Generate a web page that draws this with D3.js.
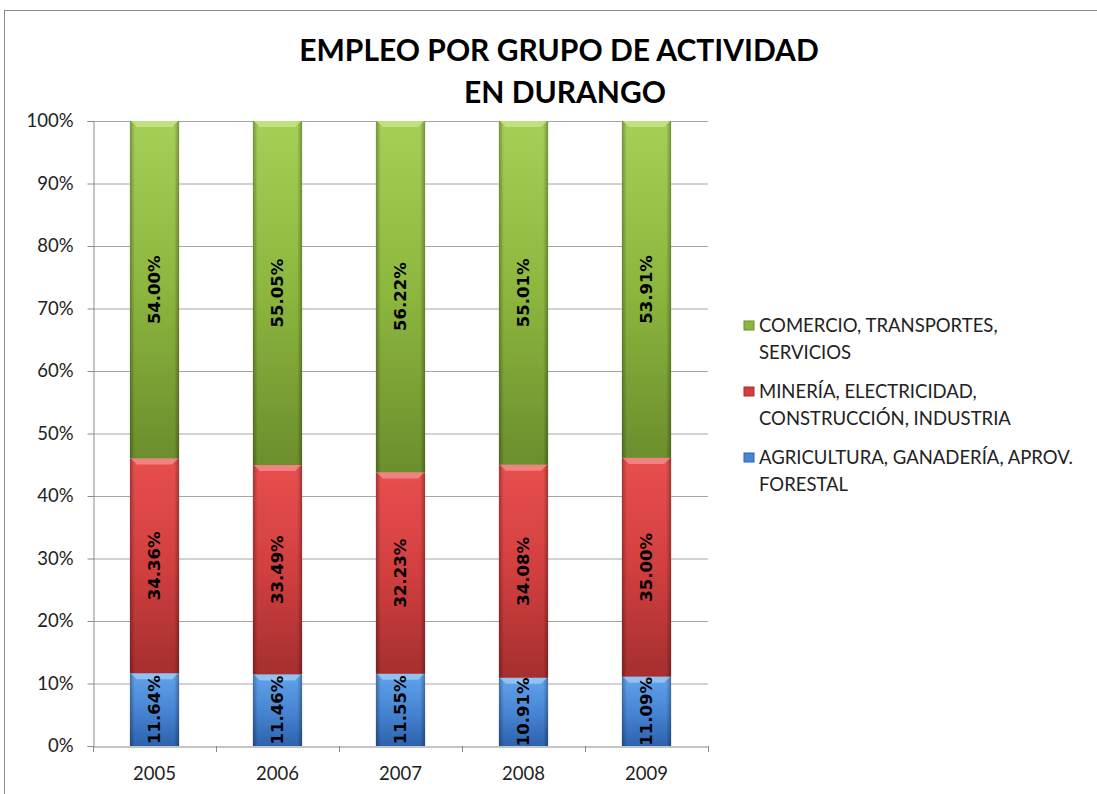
<!DOCTYPE html>
<html>
<head>
<meta charset="utf-8">
<script src="https://cdn.jsdelivr.net/npm/d3@7"></script>
<style>
  body { margin: 0; background: #fff; }
  svg { display: block; }
</style>
</head>
<body>
<svg id="chart" width="1097" height="794"></svg>
<script>
// data
const years = ['2005', '2006', '2007', '2008', '2009'];
const agricultura = [11.64, 11.46, 11.55, 10.91, 11.09];
const mineria = [34.36, 33.49, 32.23, 34.08, 35.00];
const comercio = [54.00, 55.05, 56.22, 55.01, 53.91];
const seriesNames = [
    ['AGRICULTURA, GANADERÍA, APROV.', 'FORESTAL'],
    ['MINERÍA, ELECTRICIDAD,', 'CONSTRUCCIÓN, INDUSTRIA'],
    ['COMERCIO, TRANSPORTES,', 'SERVICIOS']
];
const yTicks = [0, 10, 20, 30, 40, 50, 60, 70, 80, 90, 100];

const colors = [
    {top: '#62a3ea', mid: '#4886d4', bottom: '#2d62ae', bevel: '#9ccaf5'},
    {top: '#e84f4f', mid: '#d23f3f', bottom: '#a52f2f', bevel: '#f59090'},
    {top: '#a6cf58', mid: '#8cb63e', bottom: '#6c8e2d', bevel: '#c6e68a'}
];
const uiFont = 'Lato, "Open Sans", sans-serif';

const svg = d3.select('#chart');
const defs = svg.append('defs');

colors.forEach((c, i) => {
    let g = defs.append('linearGradient').attr('id', 'grad' + i)
        .attr('x1', 0).attr('x2', 0).attr('y1', 0).attr('y2', 1);
    g.append('stop').attr('offset', '0%').attr('stop-color', c.top);
    g.append('stop').attr('offset', '50%').attr('stop-color', c.mid);
    g.append('stop').attr('offset', '100%').attr('stop-color', c.bottom);
});
// darker side edges
let edge = defs.append('linearGradient').attr('id', 'edge')
    .attr('x1', 0).attr('x2', 1).attr('y1', 0).attr('y2', 0);
edge.append('stop').attr('offset', '0%').attr('stop-color', '#000').attr('stop-opacity', 0.3);
edge.append('stop').attr('offset', '10%').attr('stop-color', '#000').attr('stop-opacity', 0);
edge.append('stop').attr('offset', '90%').attr('stop-color', '#000').attr('stop-opacity', 0);
edge.append('stop').attr('offset', '100%').attr('stop-color', '#000').attr('stop-opacity', 0.3);

// chart frame
svg.append('rect')
    .attr('x', 4.5).attr('y', 10.5)
    .attr('width', 1200).attr('height', 900)
    .attr('fill', 'none').attr('stroke', '#8a8a8a').attr('stroke-width', 1);

const margin = {left: 93, right: 708, top: 121, bottom: 746};

const x = d3.scaleBand().domain(years)
    .range([margin.left, margin.right])
    .paddingInner(0.6).paddingOuter(0.3);

const y = d3.scaleLinear().domain([0, 100]).range([margin.bottom, margin.top]);

// grid lines
svg.append('g').selectAll('line')
    .data(yTicks.filter(d => d > 0))
    .join('line')
    .attr('x1', margin.left).attr('x2', margin.right)
    .attr('y1', d => y(d) + 0.5).attr('y2', d => y(d) + 0.5)
    .attr('stroke', '#a6a6a6');

// y axis
const yAxis = svg.append('g')
    .attr('transform', `translate(${margin.left + 0.5},0)`)
    .call(d3.axisLeft(y).tickValues(yTicks).tickFormat(d => d + '%').tickSize(6).tickPadding(14));
yAxis.select('.domain').attr('stroke', '#8a8a8a');
yAxis.selectAll('.tick line').attr('stroke', '#8a8a8a');
yAxis.selectAll('text').attr('font-size', 18.5).attr('fill', '#222')
    .attr('font-family', uiFont);

// x axis
const xAxis = svg.append('g')
    .attr('transform', `translate(0,${margin.bottom + 0.5})`)
    .call(d3.axisBottom(x).tickSize(0).tickPadding(20));
xAxis.select('.domain').attr('stroke', '#8a8a8a');
xAxis.selectAll('text').attr('font-size', 18.5).attr('fill', '#222')
    .attr('font-family', uiFont);

// category boundary ticks
svg.append('g').selectAll('line')
    .data(d3.range(years.length + 1))
    .join('line')
    .attr('x1', i => margin.left + i * (margin.right - margin.left) / years.length + 0.5)
    .attr('x2', i => margin.left + i * (margin.right - margin.left) / years.length + 0.5)
    .attr('y1', margin.bottom).attr('y2', margin.bottom + 6)
    .attr('stroke', '#8a8a8a');

// stacked data
const rows = years.map((yr, i) => ({year: yr, a: agricultura[i], m: mineria[i], c: comercio[i]}));
const stack = d3.stack().keys(['a', 'm', 'c'])(rows);

const layers = svg.append('g').selectAll('g')
    .data(stack)
    .join('g');

layers.each(function (layer, li) {
    const g = d3.select(this);
    const seg = g.selectAll('g').data(layer).join('g');

    seg.append('rect')
        .attr('x', d => x(d.data.year))
        .attr('y', d => y(d[1]))
        .attr('width', x.bandwidth())
        .attr('height', d => y(d[0]) - y(d[1]))
        .attr('fill', `url(#grad${li})`);

    seg.append('rect')
        .attr('x', d => x(d.data.year))
        .attr('y', d => y(d[1]))
        .attr('width', x.bandwidth())
        .attr('height', d => y(d[0]) - y(d[1]))
        .attr('fill', 'url(#edge)');

    // top bevel
    seg.append('path')
        .attr('d', d => {
            const x0 = x(d.data.year), x1 = x0 + x.bandwidth(), y0 = y(d[1]);
            return `M${x0 + 1},${y0}L${x1 - 1},${y0}L${x1 - 7},${y0 + 6}L${x0 + 7},${y0 + 6}Z`;
        })
        .attr('fill', colors[li].bevel).attr('opacity', 0.8);

    seg.append('text')
        .attr('transform', d => {
            const cx = x(d.data.year) + x.bandwidth() / 2;
            const cy = (y(d[0]) + y(d[1])) / 2;
            return `translate(${cx},${cy}) rotate(-90)`;
        })
        .attr('text-anchor', 'middle')
        .attr('dy', '0.36em')
        .attr('font-size', 16.5)
        .attr('font-weight', 'bold')
        .attr('font-family', '"DejaVu Sans", sans-serif')
        .attr('fill', '#000')
        .text(d => (d[1] - d[0]).toFixed(2) + '%');
});

// title
const title = svg.append('text')
    .attr('text-anchor', 'middle')
    .attr('font-size', 30)
    .attr('font-weight', 'bold')
    .attr('font-family', uiFont)
    .attr('fill', '#000');
title.append('tspan').attr('x', 559).attr('y', 61).text('EMPLEO POR GRUPO DE ACTIVIDAD');
title.append('tspan').attr('x', 565).attr('y', 103).text('EN DURANGO');

// legend (top to bottom: comercio, minería, agricultura)
const legendOrder = [2, 1, 0];
const legend = svg.append('g').selectAll('g')
    .data(legendOrder)
    .join('g')
    .attr('transform', (d, i) => `translate(744,${332 + i * 66})`);

legend.append('rect')
    .attr('x', 0).attr('y', -11).attr('width', 10).attr('height', 9)
    .attr('fill', d => colors[d].mid)
    .attr('stroke', d => colors[d].bottom).attr('stroke-width', 1);

legend.append('text')
    .attr('font-size', 18.5)
    .attr('font-family', uiFont)
    .attr('fill', '#222')
    .selectAll('tspan')
    .data(d => seriesNames[d])
    .join('tspan')
    .attr('x', 15)
    .attr('y', (d, i) => i * 27)
    .text(d => d);
</script>
</body>
</html>
